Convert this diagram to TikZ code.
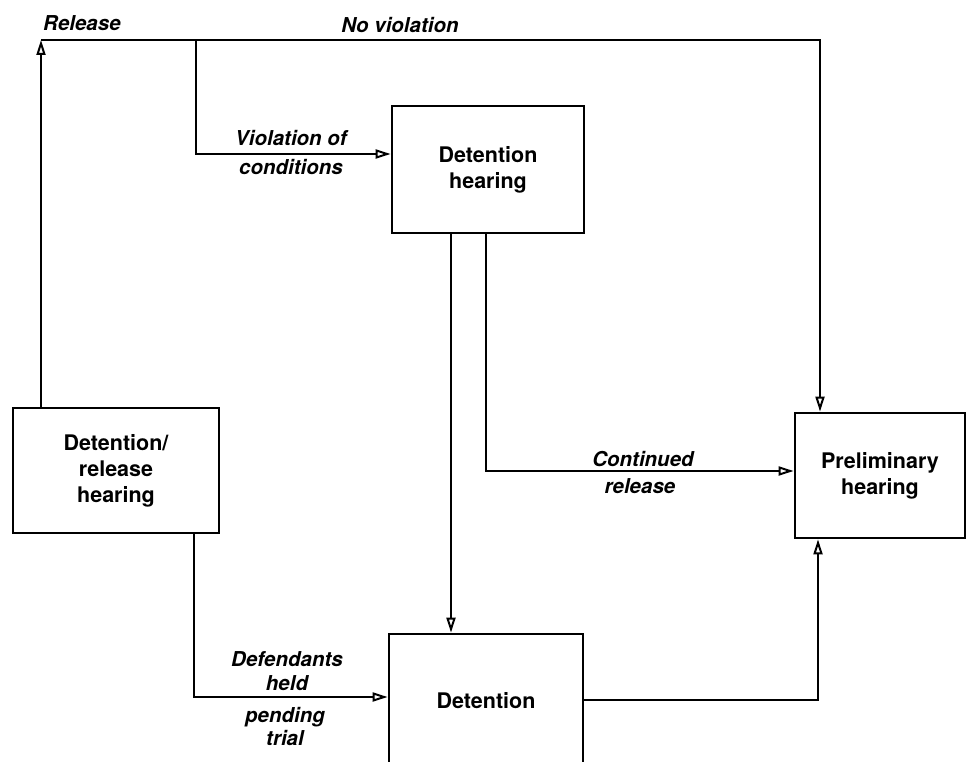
\documentclass[tikz,border=0pt]{standalone}
\usepackage{fontspec}
\setmainfont{TeX Gyre Heros}
\usetikzlibrary{arrows.meta}
\begin{document}
\begin{tikzpicture}[x=1pt,y=-1pt,
  boxnode/.style={draw, line width=2.8pt, rectangle, inner sep=0pt, align=center,
    font=\fontsize{21.5}{26}\selectfont\bfseries},
  lbl/.style={anchor=base, inner sep=0pt, font=\fontsize{20.5}{24}\selectfont\bfseries\itshape},
  conn/.style={line width=2.8pt, line join=miter,
    -{Triangle[open, length=15pt, width=9pt, line width=2pt, fill=white]}}]
\useasboundingbox (0,0) rectangle (974,762);
\fill[white] (0,0) rectangle (974,762);

% boxes
\node[boxnode, minimum width=206pt, minimum height=125pt] (dr) at (116,470.5) {Detention/\\release\\hearing};
\node[boxnode, minimum width=192pt, minimum height=127pt] (dh) at (488,169.5) {Detention\\hearing};
\node[boxnode, minimum width=170pt, minimum height=125pt] (ph) at (880,475.5) {Preliminary\\hearing};
\node[boxnode, minimum width=194pt, minimum height=134pt] (det) at (486,701) {Detention};

% routing points
\coordinate (tl) at (41,40);
\coordinate (tr) at (820,40);
\coordinate (br) at (196,40);
\coordinate (bc) at (196,154);
\coordinate (a1) at (451,400);
\coordinate (a2) at (486,471);
\coordinate (b1) at (194,697);
\coordinate (c1) at (818,700);

% connectors
\draw[conn] (dr.north -| tl) -- (tl);
\draw[conn] (tl) -- (tr) -- (ph.north -| tr);
\draw[conn] (br) -- (bc) -- (dh.west |- bc);
\draw[conn] (dh.south -| a1) -- (det.north -| a1);
\draw[conn] (dh.south -| a2) -- (a2) -- (ph.west |- a2);
\draw[conn] (dr.south -| b1) -- (b1) -- (det.west |- b1);
\draw[conn] (det.east |- c1) -- (c1) -- (ph.south -| c1);

% labels
\node[lbl, anchor=base west] (l1) at (43,31) {Release};
\node[lbl] (l2) at (400,33) {No violation};
\node[lbl] (l3) at (291,146) {Violation of};
\node[lbl] (l4) at (291,175) {conditions};
\node[lbl] (l5) at (643,466) {Continued};
\node[lbl] (l6) at (640,493) {release};
\node[lbl] (l7) at (287,666) {Defendants};
\node[lbl] (l8) at (287,690) {held};
\node[lbl] (l9) at (285,722) {pending};
\node[lbl] (l10) at (285,745) {trial};
\end{tikzpicture}
\end{document}
